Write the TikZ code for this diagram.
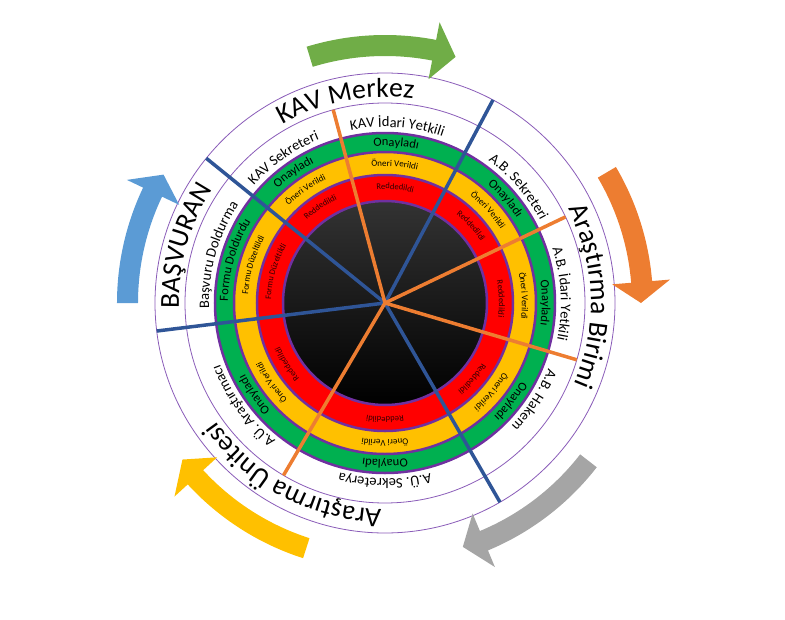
\documentclass[tikz,border=0pt]{standalone}
\usepackage{fontspec}
\setmainfont{Carlito}
\usetikzlibrary{decorations.text}
\definecolor{ringgreen}{HTML}{00B050}
\definecolor{ringyellow}{HTML}{FFC000}
\definecolor{ringred}{HTML}{FF0000}
\definecolor{ringpurple}{HTML}{7030A0}
\definecolor{thinpurple}{HTML}{8A5CB8}
\definecolor{redtext}{HTML}{300000}
\definecolor{spokeblue}{HTML}{2F5597}
\definecolor{spokeorange}{HTML}{ED7D31}
\definecolor{arrowgreen}{HTML}{70AD47}
\definecolor{arroworange}{HTML}{ED7D31}
\definecolor{arrowgray}{HTML}{A5A5A5}
\definecolor{arrowyellow}{HTML}{FFC000}
\definecolor{arrowblue}{HTML}{5B9BD5}
\def\bigfont{\fontsize{27.5}{27.5}\selectfont}
\def\whitefont{\fontsize{14.5}{14.5}\selectfont}
\def\greenfont{\fontsize{12.5}{12.5}\selectfont}
\def\yellowfont{\fontsize{9}{9}\selectfont}
\def\redfont{\fontsize{8.5}{8.5}\selectfont\color{redtext}}
\def\bandtext[#1](#2:#3:#4)#5{\path[decorate,decoration={text along path,text align=center,text={|#1|#5}}] (#2+#3:#4) arc (#2+#3:#2-#3:#4);}
\def\cyclearrow[#1](#2:#3:#4){\fill[#1] (#2:247) arc (#2:#3:247) -- (#3:228) -- (#4:256) -- (#3:286) -- (#3:268) arc (#3:#2:268) -- cycle;}

\begin{document}
\begin{tikzpicture}[x=1pt,y=1pt]
		%%%%% START %%%%%
		\useasboundingbox (-385,-316) rectangle (400,303);
		\coordinate (hub) at (0,0);
		
		\draw[thinpurple, line width=0.8] (hub) circle (230);
		\draw[thinpurple, line width=0.8] (hub) circle (200);
		\draw[draw=ringpurple, fill=ringgreen, line width=2.5] (hub) circle (170);
		\draw[draw=ringpurple, fill=ringyellow, line width=2.5] (hub) circle (151);
		\draw[draw=ringpurple, fill=ringred, line width=2.5] (hub) circle (128);
		\shade[top color=black!80, middle color=black, bottom color=black] (hub) circle (102);
		\draw[ringpurple, line width=2.5] (hub) circle (102);
		
		\draw[spokeblue, line width=3.5] (hub) -- (62:230);
		\draw[spokeblue, line width=3.5] (hub) -- (141:230);
		\draw[spokeblue, line width=3.5] (hub) -- (187:230);
		\draw[spokeblue, line width=3.5] (hub) -- (300:230);
		\draw[spokeorange, line width=3.5] (hub) -- (25.5:200);
		\draw[spokeorange, line width=3.5] (hub) -- (105:200);
		\draw[spokeorange, line width=3.5] (hub) -- (239.5:200);
		\draw[spokeorange, line width=3.5] (hub) -- (343.5:200);
		
		\cyclearrow[arrowgreen](107:79:74)
		\cyclearrow[arroworange](30.5:4.7:0)
		\cyclearrow[arrowgray](-37.8:-67.4:-72.3)
		\cyclearrow[arrowyellow](252.2:222.6:217.7)
		\cyclearrow[arrowblue](180:154.5:149.9)
		
		\bandtext[\bigfont](101:40:206){KAV Merkez}
		\bandtext[\bigfont](2:50:206){Araştırma Birimi}
		\bandtext[\bigfont](242:50:206){Araştırma Ünitesi}
		\bandtext[\bigfont](164:40:206){BAŞVURAN}
		
		\bandtext[\whitefont](41:30:176){A.B. Sekreteri}
		\bandtext[\whitefont](86:30:176){KAV İdari Yetkili}
		\bandtext[\whitefont](125:30:176){KAV Sekreteri}
		\bandtext[\whitefont](164:30:176){Başvuru Doldurma}
		\bandtext[\whitefont](216:30:176){A.Ü. Araştırmacı}
		\bandtext[\whitefont](270:30:176){A.Ü. Sekreterya}
		\bandtext[\whitefont](-33:30:176){A.B. Hakem}
		\bandtext[\whitefont](3:30:176){A.B. İdari Yetkili}
		
		\bandtext[\greenfont](41:25:157){Onayladı}
		\bandtext[\greenfont](86:25:157){Onayladı}
		\bandtext[\greenfont](125:25:157){Onayladı}
		\bandtext[\greenfont](164:25:157){Formu Doldurdu}
		\bandtext[\greenfont](215:25:157){Onayladı}
		\bandtext[\greenfont](270:25:157){Onayladı}
		\bandtext[\greenfont](-38:25:157){Onayladı}
		\bandtext[\greenfont](0:25:157){Onayladı}
		
		\bandtext[\yellowfont](42:25:137){Öneri Verildi}
		\bandtext[\yellowfont](86:25:137){Öneri Verildi}
		\bandtext[\yellowfont](125:25:137){Öneri Verildi}
		\bandtext[\yellowfont](164:25:137){Formu Düzeltildi}
		\bandtext[\yellowfont](215:25:137){Öneri Verildi}
		\bandtext[\yellowfont](270:25:137){Öneri Verildi}
		\bandtext[\yellowfont](-40:25:137){Öneri Verildi}
		\bandtext[\yellowfont](3:25:137){Öneri Verildi}
		
		\bandtext[\redfont](42:25:114){Reddedildi}
		\bandtext[\redfont](85:25:114){Reddedildi}
		\bandtext[\redfont](124:25:114){Reddedildi}
		\bandtext[\redfont](164:25:114){Formu Düzeltildi}
		\bandtext[\redfont](212:25:114){Reddedildi}
		\bandtext[\redfont](270:25:114){Reddedildi}
		\bandtext[\redfont](-41:25:114){Reddedildi}
		\bandtext[\redfont](2:25:114){Reddedildi}
		%%%%% END %%%%%
\end{tikzpicture}
\end{document}
